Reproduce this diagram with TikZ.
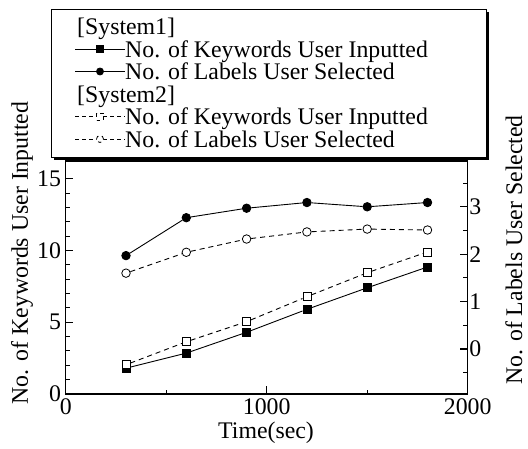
\documentclass[tikz,border=0pt]{standalone}
\usepackage{fontspec}
\setmainfont{Liberation Serif}
\tikzset{
	font=\fontsize{23.8}{26}\selectfont,
	axis/.style={line width=1.1pt},
	plotline/.style={line width=0.9pt},
	dashline/.style={line width=0.9pt, dash pattern=on 5pt off 4pt},
	lgdash/.style={line width=0.9pt, dash pattern=on 3.5pt off 3.5pt},
	fsq/.style={draw, fill=black, minimum size=8pt, inner sep=0pt, line width=0.8pt},
	osq/.style={draw, fill=white, minimum size=8pt, inner sep=0pt, line width=0.8pt},
	fci/.style={circle, draw, fill=black, minimum size=8.5pt, inner sep=0pt, line width=0.8pt},
	oci/.style={circle, draw, fill=white, minimum size=8.5pt, inner sep=0pt, line width=0.8pt},
	lgtext/.style={anchor=base west, inner sep=0pt}
}

\begin{document}
\begin{tikzpicture}[x=1pt,y=1pt]
\useasboundingbox (0,0) rectangle (528,449);

% frame
\draw[axis] (65.7,55) rectangle (467.7,288);

% left axis (keywords)
\begin{scope}[shift={(65.7,55)}, x=0.201pt, y=14.35pt]
\foreach \v in {1,2,3,4,6,7,8,9,11,12,13,14}
  \draw[axis] (0,\v) -- ++(4.3pt,0);
\foreach \v in {5,10,15}
  \draw[axis] (0,\v) -- ++(7.5pt,0);
\foreach \v in {0,5,10,15}
  \node[anchor=east, inner sep=0pt] (yl\v) at ([xshift=-4.5pt]0,\v) {\v};

% x axis
\foreach \t in {500,1500}
  \draw[axis] (\t,0) -- ++(0,4.3pt);
\draw[axis] (1000,0) -- ++(0,7.5pt);
\foreach \t in {0,1000,2000}
  \node[anchor=north, inner sep=0pt] (xl\t) at ([yshift=-4pt]\t,0) {\t};

% keywords, system1
\foreach \y [count=\i] in {1.8,2.85,4.3,5.9,7.4,8.85}
  \node[fsq] (ka\i) at ({300*\i},\y) {};
\foreach \i [remember=\i as \j (initially 1)] in {2,...,6}
  \draw[plotline] (ka\j) -- (ka\i);

% keywords, system2
\foreach \y [count=\i] in {2.04,3.64,5.04,6.78,8.45,9.9}
  \node[osq] (kb\i) at ({300*\i},\y) {};
\foreach \i [remember=\i as \j (initially 1)] in {2,...,6}
  \draw[dashline] (kb\j) -- (kb\i);
\end{scope}

% right axis (labels)
\begin{scope}[shift={(65.7,100)}, x=0.201pt, y=47.4pt]
\foreach \v in {-0.5,0.5,1.5,2.5,3.5}
  \draw[axis] (2000,\v) -- ++(-4.3pt,0);
\foreach \v in {0,1,2,3}
  \draw[axis] (2000,\v) -- ++(-7.5pt,0);
\foreach \v in {0,1,2,3}
  \node[anchor=west, inner sep=0pt] (rl\v) at ([xshift=1.5pt]2000,\v) {\v};

% labels, system1
\foreach \y [count=\i] in {1.97,2.77,2.97,3.09,3.0,3.09}
  \node[fci] (la\i) at ({300*\i},\y) {};
\foreach \i [remember=\i as \j (initially 1)] in {2,...,6}
  \draw[plotline] (la\j) -- (la\i);

% labels, system2
\foreach \y [count=\i] in {1.6,2.04,2.32,2.47,2.53,2.51}
  \node[oci] (lb\i) at ({300*\i},\y) {};
\foreach \i [remember=\i as \j (initially 1)] in {2,...,6}
  \draw[dashline] (lb\j) -- (lb\i);
\end{scope}

% axis titles
\node[rotate=90] (ytitle) at (22,196) {No. of Keywords User Inputted};
\node[rotate=90] (rtitle) at (514,199) {No. of Labels User Selected};
\node (xtitle) at (266,16) {Time(sec)};

% legend box with shadow
\fill (54,289) rectangle (489,437);
\draw[fill=white, line width=0.8pt] (51,292) rectangle (486,440);

% legend entries
\node[lgtext] (lg1) at (77,414) {[System1]};
\node[lgtext] (lg2) at (125,391.5) {No. of Keywords User Inputted};
\node[lgtext] (lg3) at (125,369) {No. of Labels User Selected};
\node[lgtext] (lg4) at (77,346.5) {[System2]};
\node[lgtext] (lg5) at (125,324) {No. of Keywords User Inputted};
\node[lgtext] (lg6) at (125,301.5) {No. of Labels User Selected};

\coordinate (ls2) at (75,400);
\coordinate (ls3) at (75,377.5);
\coordinate (ls5) at (75,332.5);
\coordinate (ls6) at (75,310);
\draw[plotline] (ls2) -- (ls2 -| lg2.west) node[midway, fsq, minimum size=7pt] (lm2) {};
\draw[plotline] (ls3) -- (ls3 -| lg3.west) node[midway, fci, minimum size=7pt] (lm3) {};
\draw[lgdash] (ls5) -- (ls5 -| lg5.west) node[midway, osq, minimum size=7pt] (lm5) {};
\draw[lgdash] (ls6) -- (ls6 -| lg6.west) node[midway, oci, minimum size=7pt] (lm6) {};

\end{tikzpicture}
\end{document}
